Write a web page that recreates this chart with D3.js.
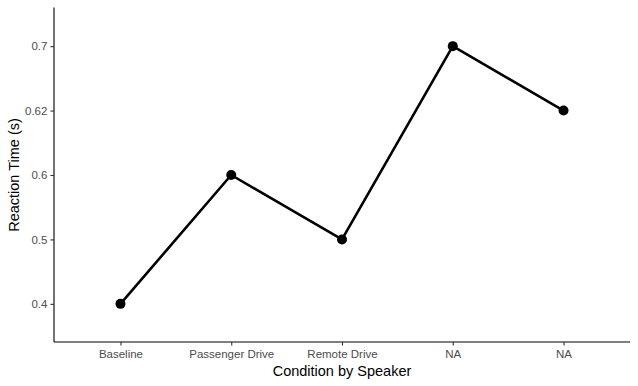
<!DOCTYPE html>
<html><head><meta charset="utf-8">
<script src="https://cdn.jsdelivr.net/npm/d3@7"></script>
<style>body{margin:0;background:#fff;} svg{display:block;font-family:"Liberation Sans",Arial,sans-serif;}</style>
</head><body>
<svg id="c" width="638" height="386"></svg>
<script>
const categories = ["Baseline", "Passenger Drive", "Remote Drive", "NA", "NA"];
const values = ["0.4", "0.6", "0.5", "0.7", "0.62"];
const yLevels = ["0.4", "0.5", "0.6", "0.62", "0.7"];
const xTitle = "Condition by Speaker";
const yTitle = "Reaction Time (s)";

(function () {
const svg = d3.select("#c");
const mLeft = 54, mRight = 630, mTop = 7.5, mBottom = 342.5, axisY = 342;
const idx = categories.map((d, i) => i);
const x = d3.scalePoint().domain(idx).range([mLeft, mRight]).padding(0.6);
const y = d3.scalePoint().domain(yLevels).range([mBottom, mTop]).padding(0.6);

const xAxis = d3.axisBottom(x).tickSize(3.6).tickPadding(4).tickFormat(i => categories[i]);
const yAxis = d3.axisLeft(y).tickSize(3.6).tickPadding(3);

const gx = svg.append("g").attr("transform", `translate(0,${axisY})`).call(xAxis);
const gy = svg.append("g").attr("transform", `translate(${mLeft},0)`).call(yAxis);
[gx, gy].forEach(g => {
  g.select(".domain").attr("stroke", "#000").attr("stroke-width", 1.1);
  g.selectAll(".tick line").attr("stroke", "#333").attr("stroke-width", 1.1);
  g.selectAll(".tick text").attr("fill", "#4d4d4d").attr("font-size", "11.5px").attr("font-family", "Liberation Sans, Arial, sans-serif");
});
gx.select(".domain").attr("d", `M${mLeft},0H${mRight}`);
gy.select(".domain").attr("d", `M0,${axisY}V${mTop}`);

const pts = idx.map(i => ({x: x(i), y: y(values[i])}));
svg.append("path").datum(pts)
  .attr("d", d3.line().x(d => d.x).y(d => d.y))
  .attr("fill", "none").attr("stroke", "#000").attr("stroke-width", 2.6).attr("stroke-linejoin", "round");
svg.selectAll("circle.pt").data(pts).join("circle").attr("class", "pt")
  .attr("cx", d => d.x).attr("cy", d => d.y).attr("r", 5).attr("fill", "#000");

svg.append("text").attr("x", (mLeft + mRight) / 2).attr("y", 376).attr("text-anchor", "middle")
  .attr("font-size", "14.5px").attr("fill", "#000").text(xTitle);
svg.append("text").attr("transform", `translate(19,${(mTop + mBottom) / 2}) rotate(-90)`).attr("text-anchor", "middle")
  .attr("font-size", "14.5px").attr("fill", "#000").text(yTitle);
})();
</script>
</body></html>
